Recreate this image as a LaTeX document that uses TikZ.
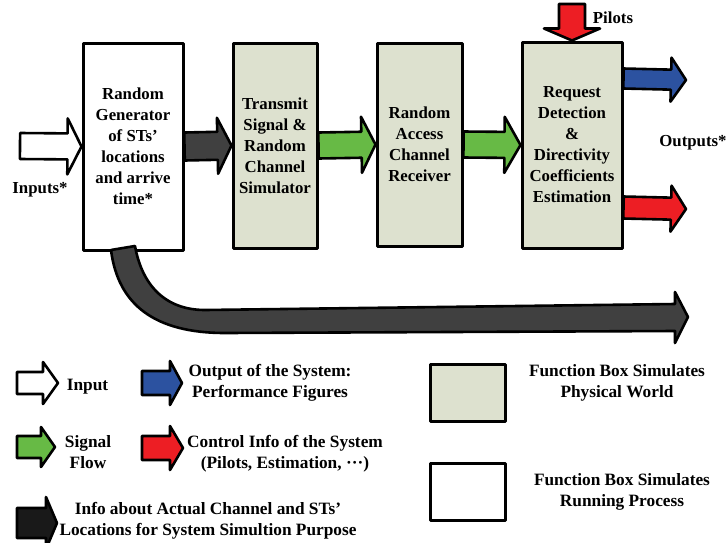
\documentclass[tikz,border=0pt]{standalone}
\usepackage{fontspec}
\setmainfont{Liberation Serif}
\usetikzlibrary{calc,positioning}
\definecolor{boxgray}{RGB}{221,225,207}
\definecolor{flowgreen}{RGB}{103,186,69}
\definecolor{outblue}{RGB}{44,82,160}
\definecolor{ctrlred}{RGB}{237,30,36}
\definecolor{infodark}{RGB}{64,64,64}
\newcommand{\boxfont}{\fontsize{16.8}{21}\selectfont\bfseries}
\newcommand{\keyfont}{\fontsize{17.3}{21}\selectfont\bfseries}
\tikzset{
    arrowline/.style={line width=2.6pt, black, line join=round},
    runbox/.style={draw, line width=3pt, fill=white, line join=round,
        align=center, inner sep=0pt, font=\boxfont},
    physbox/.style={runbox, fill=boxgray},
    txt/.style={align=center, inner sep=0pt, font=\boxfont},
    keytxt/.style={txt, font=\keyfont}
}
% from, tip, fill, shaft half width, head half width, head length
\newcommand{\blockarrow}[6]{%
    \coordinate (ba) at ($(#2)!#6pt!(#1)$);
    \draw[arrowline, fill=#3]
        ($(#1)!#4pt!90:(#2)$) -- ($(ba)!#4pt!90:(#2)$) -- ($(ba)!#5pt!90:(#2)$) -- (#2)
        -- ($(ba)!#5pt!-90:(#2)$) -- ($(ba)!#4pt!-90:(#2)$) -- ($(#1)!#4pt!-90:(#2)$) -- cycle;}

\begin{document}
\begin{tikzpicture}[x=1pt, y=-1pt]
    \useasboundingbox (0,0) rectangle (726,542);

    \node[runbox, minimum width=100pt, minimum height=207pt] (gen) at (133,146.5)
        {Random\\Generator\\of STs’\\locations\\and arrive\\time*};
    \node[physbox, minimum width=84pt, minimum height=205pt] (tx) at (275,145.5)
        {Transmit\\Signal \&\\Random\\Channel\\Simulator};
    \node[physbox, minimum width=85pt, minimum height=203pt] (rx) at (419.5,144.5)
        {Random\\Access\\Channel\\Receiver};
    \node[physbox, minimum width=100pt, minimum height=206pt] (req) at (572,145)
        {Request\\Detection\\\&\\Directivity\\Coefficients\\Estimation};

    \coordinate (inbeg) at (20,146);
    \coordinate (pil) at (572,4);
    \coordinate (blueout) at ($(req.north east)+(0,38)$);
    \coordinate (blueend) at (686,80);
    \coordinate (redout) at ($(req.north east)+(0,167)$);
    \coordinate (redend) at (686,209);

    \blockarrow{inbeg}{gen.west}{white}{13}{28}{14}
    \blockarrow{gen.east}{tx.west}{infodark}{14}{28}{14}
    \blockarrow{tx.east}{rx.west}{flowgreen}{13}{28}{14}
    \blockarrow{rx.east}{req.west}{flowgreen}{13}{28}{16}
    \blockarrow{pil}{req.north}{ctrlred}{13}{28}{12}
    \blockarrow{blueout}{blueend}{outblue}{10}{22}{15}
    \blockarrow{redout}{redend}{ctrlred}{11}{23}{15}

    % info path below the boxes
    \draw[arrowline, fill=infodark] (111,250) .. controls (118,305) and (155,333) .. (225,333)
        -- (675,331) -- (675,343) -- (688,317) -- (675,292) -- (675,304) -- (205,310)
        .. controls (165,310) and (142,285) .. (135,246) -- cycle;

    \node[txt] (intxt) at (40,190) {Inputs*};
    \node[txt] (outtxt) at (693,143) {Outputs*};
    \node[txt] (piltxt) at (613,18) {Pilots};

    % legend
    \coordinate (k1a) at (17,383);  \coordinate (k1b) at (58,383);
    \coordinate (k2a) at (142,383); \coordinate (k2b) at (182,383);
    \coordinate (k3a) at (17,447);  \coordinate (k3b) at (55,447);
    \coordinate (k4a) at (142,448); \coordinate (k4b) at (183,448);
    \coordinate (k5a) at (17,523);  \coordinate (k5b) at (57,523);
    \blockarrow{k1a}{k1b}{white}{11}{21}{15}
    \blockarrow{k2a}{k2b}{outblue}{12}{22}{12}
    \blockarrow{k3a}{k3b}{flowgreen}{11}{20}{14}
    \blockarrow{k4a}{k4b}{ctrlred}{12}{22}{13}
    \blockarrow{k5a}{k5b}{black!90}{15}{26}{11}

    \node[keytxt] (k1txt) at (87.5,387) {Input};
    \node[keytxt] (k2txt) at (270,382.5) {Output of the System:\\Performance Figures};
    \node[keytxt] (k3txt) at (88,452.5) {Signal\\Flow};
    \node[keytxt] (k4txt) at (285,454) {Control Info of the System\\(Pilots, Estimation, ···)};
    \node[keytxt] (k5txt) at (208,521) {Info about Actual Channel and STs’\\Locations for System Simultion Purpose};

    \node[physbox, minimum width=75pt, minimum height=57pt] (keyphys) at (467.5,392.5) {};
    \node[runbox, minimum width=75pt, minimum height=57pt] (keyrun) at (467.5,491.5) {};
    \node[keytxt] (keyphystxt) at (617,383) {Function Box Simulates\\Physical World};
    \node[keytxt] (keyruntxt) at (622,492) {Function Box Simulates\\Running Process};
\end{tikzpicture}
\end{document}
